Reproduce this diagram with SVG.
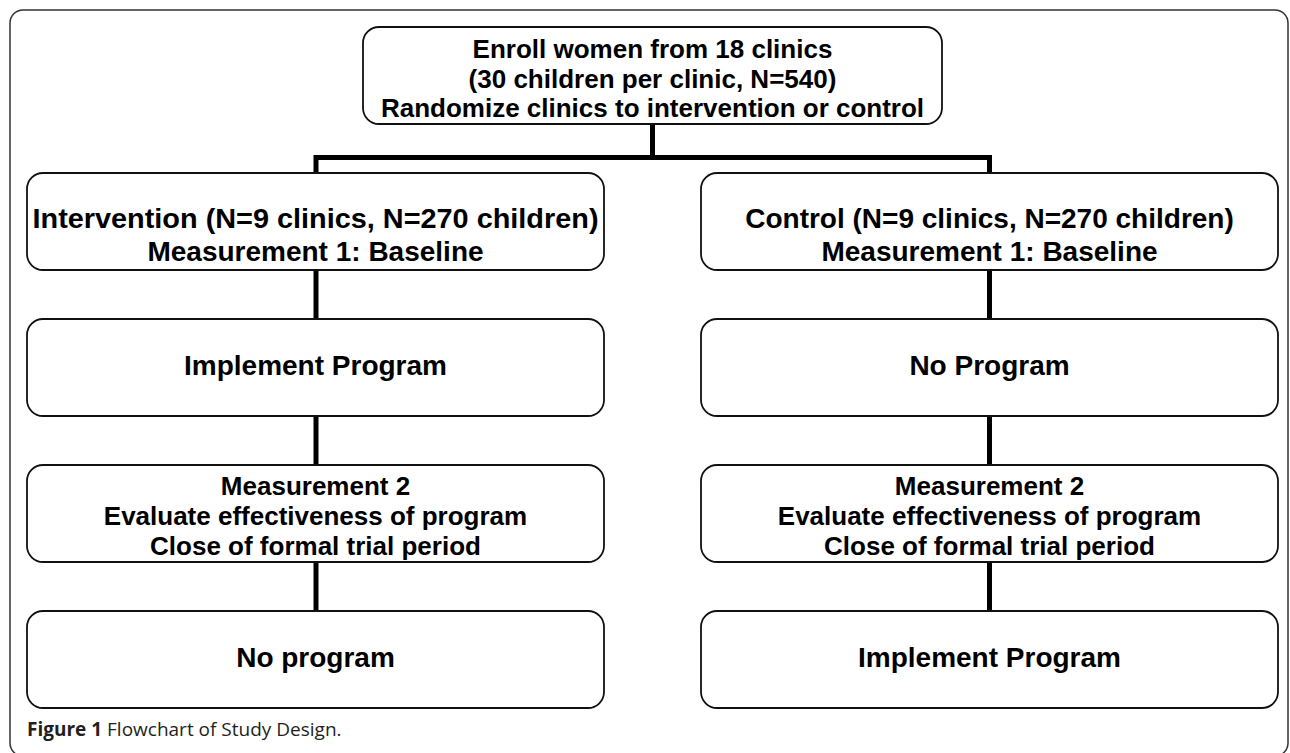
<svg xmlns="http://www.w3.org/2000/svg" width="1290" height="753" viewBox="0 0 1290 753">
<style>
.box{fill:#fff;stroke:#111;stroke-width:1.8}
.t{font-family:"Liberation Sans",Arial,sans-serif;font-weight:bold;fill:#000;text-anchor:middle}
.s26{font-size:26px}
.s28{font-size:28px}
.conn{fill:none;stroke:#000;stroke-width:5;stroke-linejoin:miter}
.cap{font-family:"Open Sans","Noto Sans",sans-serif;font-size:19px;fill:#231f20}
</style>
<rect x="10" y="10" width="1278" height="746" rx="13" ry="13" fill="#fff" stroke="#333" stroke-width="1.5"/>
<g id="connectors">
<path class="conn" d="M652.5 124 V157.5"/>
<path class="conn" d="M316 173 V157.5 H989.5 V173"/>
<path class="conn" d="M316 270 V319 M316 416 V465 M316 562 V611"/>
<path class="conn" d="M989.5 270 V319 M989.5 416 V465 M989.5 562 V611"/>
</g>
<g id="enroll">
<rect class="box" x="363" y="27" width="579" height="97" rx="16"/>
<text class="t s26" x="652.5" y="58">Enroll women from 18 clinics</text>
<text class="t s26" x="652.5" y="88">(30 children per clinic, N=540)</text>
<text class="t s26" x="652.5" y="117">Randomize clinics to intervention or control</text>
</g>
<g id="intervention">
<rect class="box" x="27" y="173" width="577" height="97" rx="16"/>
<text class="t s28" x="315.5" y="228" textLength="566" lengthAdjust="spacingAndGlyphs">Intervention (N=9 clinics, N=270 children)</text>
<text class="t s28" x="315.5" y="261">Measurement 1: Baseline</text>
</g>
<g id="control">
<rect class="box" x="701" y="173" width="577" height="97" rx="16"/>
<text class="t s28" x="989.5" y="228">Control (N=9 clinics, N=270 children)</text>
<text class="t s28" x="989.5" y="261">Measurement 1: Baseline</text>
</g>
<g id="implement-left">
<rect class="box" x="27" y="319" width="577" height="97" rx="16"/>
<text class="t s28" x="315.5" y="375">Implement Program</text>
</g>
<g id="noprogram-right">
<rect class="box" x="701" y="319" width="577" height="97" rx="16"/>
<text class="t s28" x="989.5" y="375">No Program</text>
</g>
<g id="measure2-left">
<rect class="box" x="27" y="465" width="577" height="97" rx="16"/>
<text class="t s26" x="315.5" y="495">Measurement 2</text>
<text class="t s26" x="315.5" y="525">Evaluate effectiveness of program</text>
<text class="t s26" x="315.5" y="555">Close of formal trial period</text>
</g>
<g id="measure2-right">
<rect class="box" x="701" y="465" width="577" height="97" rx="16"/>
<text class="t s26" x="989.5" y="495">Measurement 2</text>
<text class="t s26" x="989.5" y="525">Evaluate effectiveness of program</text>
<text class="t s26" x="989.5" y="555">Close of formal trial period</text>
</g>
<g id="noprogram-left">
<rect class="box" x="27" y="611" width="577" height="97" rx="16"/>
<text class="t s28" x="315.5" y="667">No program</text>
</g>
<g id="implement-right">
<rect class="box" x="701" y="611" width="577" height="97" rx="16"/>
<text class="t s28" x="989.5" y="667">Implement Program</text>
</g>
<text class="cap" x="27" y="736"><tspan font-weight="bold">Figure 1</tspan> Flowchart of Study Design.</text>
</svg>
